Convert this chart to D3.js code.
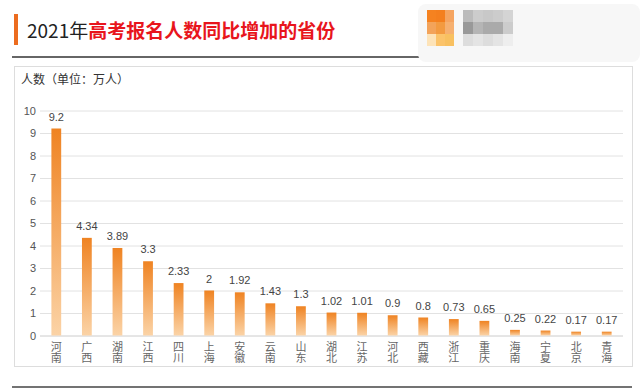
<!DOCTYPE html>
<html>
<head>
<meta charset="utf-8">
<script src="https://cdn.jsdelivr.net/npm/d3@7"></script>
<style>
  body { margin: 0; background: #fff; font-family: "Noto Sans CJK SC", "Noto Sans", sans-serif; }
  svg { display: block; }
</style>
</head>
<body>
<div class="chart-container"></div>
<script>
// Data
const provinces = ["河南", "广西", "湖南", "江西", "四川", "上海", "安徽", "云南", "山东", "湖北",
                   "江苏", "河北", "西藏", "浙江", "重庆", "海南", "宁夏", "北京", "青海"];
const increase = [9.2, 4.34, 3.89, 3.3, 2.33, 2, 1.92, 1.43, 1.3, 1.02,
                  1.01, 0.9, 0.8, 0.73, 0.65, 0.25, 0.22, 0.17, 0.17];
const yTicks = [0, 1, 2, 3, 4, 5, 6, 7, 8, 9, 10];

const W = 640, H = 392;
const svg = d3.select('.chart-container').append('svg')
    .attr('width', W).attr('height', H);

// Gradient for bars
const defs = svg.append('defs');
const grad = defs.append('linearGradient')
    .attr('id', 'barGrad').attr('x1', 0).attr('y1', 0).attr('x2', 0).attr('y2', 1);
grad.append('stop').attr('offset', '0%').attr('stop-color', '#ef8322');
grad.append('stop').attr('offset', '100%').attr('stop-color', '#fbd3a6');

// Title block
svg.append('rect').attr('x', 14).attr('y', 14).attr('width', 4).attr('height', 31).attr('fill', '#ec6c1f');
const title = svg.append('text').attr('x', 27).attr('y', 38).attr('font-size', 19);
title.append('tspan').attr('fill', '#222').text('2021年');
title.append('tspan').attr('fill', '#e8151c').attr('font-weight', 'bold').text('高考报名人数同比增加的省份');
svg.append('line').attr('x1', 12).attr('x2', 422).attr('y1', 57).attr('y2', 57)
    .attr('stroke', '#333').attr('stroke-width', 1.5);

// Blurred logo placeholder
const logo = svg.append('g');
logo.append('rect').attr('x', 418).attr('y', 4).attr('width', 222).attr('height', 58).attr('rx', 8)
    .attr('fill', '#f7f7f7');
[['#f58220', 427, 10], ['#f47f1e', 436, 10], ['#f5a460', 445, 10],
 ['#f3a35a', 427, 22], ['#f39a40', 436, 22], ['#f6b070', 445, 22],
 ['#fde3b8', 427, 34], ['#fbc36a', 436, 34], ['#f8c060', 445, 34]].forEach(d => {
  logo.append('rect').attr('x', d[1]).attr('y', d[2]).attr('width', 9).attr('height', 12).attr('fill', d[0]);
});
[[463, 10, '#bbb'], [473, 10, '#ccc'], [483, 10, '#c8c8c8'], [493, 10, '#ccc'], [503, 10, '#d4d4d4'],
 [463, 22, '#999'], [473, 22, '#b5b5b5'], [483, 22, '#aaa'], [493, 22, '#aaa'], [503, 22, '#ccc'],
 [463, 34, '#ddd'], [473, 34, '#e4e4e4'], [483, 34, '#ddd'], [493, 34, '#e4e4e4'], [503, 34, '#eee']].forEach(d => {
  logo.append('rect').attr('x', d[0]).attr('y', d[1]).attr('width', 10).attr('height', 12).attr('fill', d[2]);
});

// Chart panel
svg.append('rect').attr('x', 14.5).attr('y', 66.5).attr('width', 618).attr('height', 300)
    .attr('fill', 'none').attr('stroke', '#ddd');
svg.append('line').attr('x1', 12).attr('x2', 632).attr('y1', 387).attr('y2', 387)
    .attr('stroke', '#444').attr('stroke-width', 1.5);

svg.append('text').attr('x', 21).attr('y', 84).attr('font-size', 12).attr('fill', '#333')
    .text('人数（单位：万人）');

// Scales
const x = d3.scaleBand().domain(provinces).range([41, 622]).paddingInner(0.68).paddingOuter(0.34);
const y = d3.scaleLinear().domain([0, 10]).range([335.5, 110.5]);

// Grid
svg.append('g').attr('class', 'grid')
    .attr('transform', 'translate(40,0)')
    .call(d3.axisLeft(y).tickValues(yTicks).tickSize(-583).tickFormat(''))
    .call(g => g.select('.domain').remove())
    .call(g => g.selectAll('line').attr('stroke', d => d === 0 ? '#ccc' : '#e2e2e2'));

// Y axis labels
svg.append('g')
    .attr('transform', 'translate(38,0)')
    .call(d3.axisLeft(y).tickValues(yTicks).tickSize(0).tickPadding(2))
    .call(g => g.select('.domain').remove())
    .call(g => g.selectAll('text').attr('font-size', 11).attr('fill', '#555')
        .attr('font-family', '"Liberation Sans", Arial, sans-serif'));

// Bars
svg.append('g').selectAll('rect').data(increase).enter().append('rect')
    .attr('x', (d, i) => x(provinces[i]))
    .attr('y', d => y(d))
    .attr('width', x.bandwidth())
    .attr('height', d => y(0) - y(d))
    .attr('fill', 'url(#barGrad)');

// Value labels
svg.append('g').selectAll('text').data(increase).enter().append('text')
    .attr('x', (d, i) => x(provinces[i]) + x.bandwidth() / 2)
    .attr('y', d => y(d) - 8)
    .attr('text-anchor', 'middle')
    .attr('font-size', 11).attr('fill', '#444')
    .attr('font-family', '"Liberation Sans", Arial, sans-serif')
    .text(d => d);

// Category labels, written vertically
svg.append('g').selectAll('text').data(provinces).enter().append('text')
    .attr('x', d => x(d) + x.bandwidth() / 2)
    .attr('y', 352)
    .attr('text-anchor', 'middle')
    .style('writing-mode', 'vertical-rl')
    .attr('font-size', 11).attr('fill', '#666')
    .text(d => d);
</script>
</body>
</html>
